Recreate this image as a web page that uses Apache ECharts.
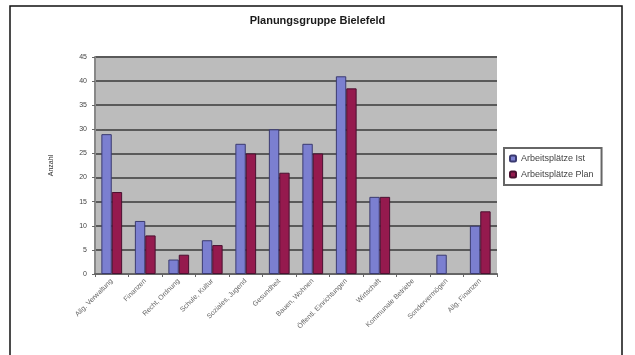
<!DOCTYPE html>
<html>
<head>
<meta charset="utf-8">
<script src="https://cdn.jsdelivr.net/npm/echarts@6/dist/echarts.min.js"></script>
<style>
	html,body{margin:0;padding:0;background:#fff;}
</style>
</head>
<body>
<div id="bar" style="width:635px;height:355px;"></div>
<script>
	// Werte (null = kein Balken)
	let categories = ['Allg. Verwaltung','Finanzen','Recht, Ordnung','Schule, Kultur','Soziales, Jugend','Gesundheit','Bauen, Wohnen','Öffentl. Einrichtungen','Wirtschaft','Kommunale Betriebe','Sondervermögen','Allg. Finanzen'];
	let istValues = [29, 11, 3, 7, 27, 30, 27, 41, 16, null, 4, 10];
	let planValues = [17, 8, 4, 6, 25, 21, 25, 38.5, 16, null, null, 13];
	let seriesNames = ['Arbeitsplätze Ist', 'Arbeitsplätze Plan'];

	let barChart = echarts.init(document.getElementById('bar'));
	barChart.setOption({
		animation:false,
		textStyle:{fontFamily:'Liberation Sans'},
		title:{
			text:'Planungsgruppe Bielefeld',
			left:'center',
			top:10,
			textStyle:{fontSize:11,fontWeight:'bold',color:'#1a1a1a'}
		},
		legend:{
			orient:'vertical',
			left:504,
			top:148,
			itemWidth:6,
			itemHeight:6,
			itemGap:7,
			padding:[6,8,6,5],
			borderColor:'#666',
			borderWidth:2,
			textStyle:{fontSize:9,color:'#444'},
			data:seriesNames
		},
		grid:{
			left:95,
			right:138,
			top:57,
			bottom:81,
			show:true,
			backgroundColor:'#bcbcbc',
			borderWidth:0
		},
		xAxis:{
			type:'category',
			data:categories,
			axisLine:{lineStyle:{color:'#666',width:2}},
			axisTick:{show:true,length:3,lineStyle:{color:'#666'}},
			axisLabel:{rotate:45,fontSize:7,color:'#666',margin:6,interval:0}
		},
		yAxis:{
			type:'value',
			min:0,
			max:45,
			interval:5,
			name:'Anzahl',
			nameLocation:'middle',
			nameGap:40,
			nameTextStyle:{fontSize:7,color:'#333'},
			axisLine:{show:true,lineStyle:{color:'#888',width:2}},
			axisTick:{show:true,length:3,lineStyle:{color:'#666'}},
			axisLabel:{fontSize:7,color:'#444'},
			splitLine:{lineStyle:{color:'#5a5a5a',width:2}}
		},
		series:[{
			name:seriesNames[0],
			type:'bar',
			data:istValues,
			barGap:'0%',
			barCategoryGap:'38%',
			itemStyle:{color:'#7b7fd0',borderColor:'#3a3a70',borderWidth:1}
		},{
			name:seriesNames[1],
			type:'bar',
			data:planValues,
			itemStyle:{color:'#951a4e',borderColor:'#4a1030',borderWidth:1}
		}],
		graphic:[{
			type:'rect',
			shape:{x:10,y:6,width:612,height:360},
			style:{fill:null,stroke:'#111',lineWidth:1.5},
			silent:true
		}]
	});
</script>
</body>
</html>
